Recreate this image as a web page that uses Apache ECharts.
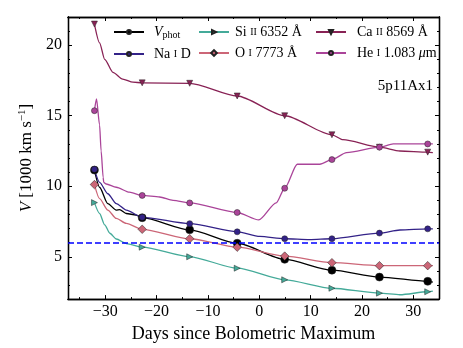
<!DOCTYPE html>
<html>
<head>
<meta charset="utf-8">
<script src="https://cdn.jsdelivr.net/npm/echarts@6/dist/echarts.min.js"></script>
<style>
  html, body { margin: 0; padding: 0; background: #fff; }
  #chart { width: 463px; height: 348px; }
</style>
</head>
<body>
<div id="chart"></div>
<script>
// epochs of the spectra (days since bolometric maximum)
const epochs = [-32.1, -22.8, -13.55, -4.3, 4.95, 14.15, 23.4, 32.8];

// velocities at the epochs [1000 km/s]
const vphotMarks = [11.15, 7.77, 6.91, 5.96, 4.82, 4.05, 3.56, 3.26];
const naMarks = [11.2, 7.8, 7.35, 6.77, 6.28, 6.28, 6.68, 6.98];
const siMarks = [8.84, 5.68, 5.0, 4.19, 3.37, 2.77, 2.42, 2.52];
const oMarks = [10.12, 6.95, 6.28, 5.68, 5.05, 4.58, 4.37, 4.37];
const caMarks = [21.5, 17.33, 17.3, 16.4, 15.0, 13.65, 12.77, 12.42];
const heMarks = [15.36, 9.35, 8.82, 8.14, 9.86, 11.89, 12.77, 13.0];

// extra points along the model curves between epochs
const vphotCurve = [[-31.1, 9.93], [-29.5, 8.77], [-27.85, 8.31], [-27.2, 8.35], [-25.9, 8.07], [-24.0, 7.96], [33.8, 3.2]];
const naCurve = [[-31.1, 10.28], [-29.5, 9.47], [-27.85, 8.77], [-25.9, 8.31], [0.1, 6.44], [9.8, 6.21], [27.4, 6.9], [33.8, 6.98]];
const siCurve = [[-31.1, 8.07], [-30.1, 7.26], [-29.1, 6.67], [-27.85, 6.26], [-25.9, 5.94], [27.4, 2.31], [33.8, 2.57]];
const oCurve = [[-31.1, 9.12], [-29.5, 8.31], [-27.85, 7.72], [-25.9, 7.37], [33.8, 4.37]];
const caCurve = [[-31.1, 20.17], [-30.1, 19.0], [-28.5, 18.08], [-26.6, 17.6], [-24.6, 17.38], [16.3, 13.3], [27.4, 12.5], [33.8, 12.38]];
const heCurve = [[-31.7, 16.2], [-31.1, 14.35], [-30.8, 12.5], [-30.4, 10.63], [-30.3, 10.28], [-29.8, 10.16], [-27.85, 9.93], [-25.3, 9.58],
  [-19.4, 9.24], [-16.8, 9.0], [-0.1, 7.61], [3.3, 8.82], [7.4, 11.56], [11.8, 11.56], [17.0, 12.38], [26.1, 13.0], [33.8, 13.0]];

const vHorizon = 6.0;

// tick positions
const xMajor = [-30, -20, -10, 0, 10, 20, 30];
const xMinor = [-35, -25, -15, -5, 5, 15, 25];
const yMajor = [5, 10, 15, 20];
const yMinor = [3, 4, 6, 7, 8, 9, 11, 12, 13, 14, 16, 17, 18, 19, 21];

const serif = "'Liberation Serif', 'DejaVu Serif', serif";

const legendText = {
  vphot: '{i|V}{sub|phot}',
  na: 'Na {sc|I} D',
  si: 'Si {sc|II} 6352 Å',
  o: 'O {sc|I} 7773 Å',
  ca: 'Ca {sc|II} 8569 Å',
  he: 'He {sc|I} 1.083 {i|μ}m'
};

function mergeData(marks, curve) {
  const pts = [];
  for (let i = 0; i < epochs.length; i++) {
    pts.push({ value: [epochs[i], marks[i]] });
  }
  for (let j = 0; j < curve.length; j++) {
    pts.push({ value: curve[j], symbol: 'none' });
  }
  pts.sort(function (a, b) { return a.value[0] - b.value[0]; });
  return pts;
}

function makeSeries(name, marks, curve, color, symbol, size, rotate) {
  return {
    name: name,
    type: 'line',
    xAxisIndex: 0,
    yAxisIndex: 0,
    data: mergeData(marks, curve),
    smooth: 0.25,
    smoothMonotone: 'x',
    symbol: symbol,
    symbolSize: size,
    symbolRotate: rotate,
    showAllSymbol: true,
    lineStyle: { color: color, width: 1.3 },
    itemStyle: { color: color, borderColor: '#222', borderWidth: 0.5 },
    emphasis: { disabled: true }
  };
}

const seriesList = [
  makeSeries('vphot', vphotMarks, vphotCurve, '#000000', 'circle', 8, 0),
  makeSeries('na', naMarks, naCurve, '#332288', 'circle', 6, 0),
  makeSeries('si', siMarks, siCurve, '#44aa99', 'triangle', 6, -90),
  makeSeries('o', oMarks, oCurve, '#cc6677', 'rect', 6, 45),
  makeSeries('ca', caMarks, caCurve, '#882255', 'triangle', 6, 180),
  makeSeries('he', heMarks, heCurve, '#aa4499', 'circle', 6, 0)
];
seriesList[0].markLine = {
  silent: true,
  symbol: 'none',
  label: { show: false },
  lineStyle: { color: '#0000ff', type: [6, 3], width: 1.5 },
  data: [{ yAxis: vHorizon }]
};

const richText = {
  i: { fontFamily: serif, fontStyle: 'italic', fontSize: 14, color: '#000' },
  sub: { fontFamily: serif, fontSize: 10, color: '#000', padding: [6, 0, 0, 0] },
  sc: { fontFamily: serif, fontSize: 10, color: '#000' }
};

function makeLegend(names, left, pad) {
  return {
    data: names,
    orient: 'vertical',
    left: left,
    top: 20,
    itemWidth: 30,
    itemHeight: 5,
    itemGap: 7,
    selectedMode: false,
    formatter: function (n) { return legendText[n]; },
    textStyle: { fontFamily: serif, fontSize: 14, color: '#000', lineHeight: 14, padding: [0, 0, 0, pad], rich: richText }
  };
}

const tickFmt = function (v) { return v < 0 ? '−' + Math.abs(v) : String(v); };

// one axis = one set of inward ticks on one side of the frame
function xSide(pos, ticks, len, labels) {
  return {
    type: 'value',
    position: pos,
    min: -37.25,
    max: 35,
    axisLine: { show: true, onZero: false, lineStyle: { color: '#000', width: 1.3 } },
    axisTick: { show: true, inside: true, length: len, customValues: ticks, lineStyle: { color: '#000', width: 1 } },
    axisLabel: labels
      ? { show: true, customValues: ticks, fontFamily: serif, fontSize: 16, color: '#000', margin: 5, formatter: tickFmt }
      : { show: false },
    splitLine: { show: false }
  };
}
function ySide(pos, ticks, len, labels) {
  return {
    type: 'value',
    position: pos,
    min: 2,
    max: 22,
    axisLine: { show: true, onZero: false, lineStyle: { color: '#000', width: 1.3 } },
    axisTick: { show: true, inside: true, length: len, customValues: ticks, lineStyle: { color: '#000', width: 1 } },
    axisLabel: labels
      ? { show: true, customValues: ticks, fontFamily: serif, fontSize: 16, color: '#000', margin: 6 }
      : { show: false },
    splitLine: { show: false }
  };
}

const xBottom = xSide('bottom', xMajor, 4, true);
xBottom.name = 'Days since Bolometric Maximum';
xBottom.nameLocation = 'middle';
xBottom.nameGap = 25;
xBottom.nameTextStyle = { fontFamily: serif, fontSize: 18, color: '#000' };

const yLeft = ySide('left', yMajor, 4, true);
yLeft.name = '{i|V} [1000 km s{sup|−1}]';
yLeft.nameLocation = 'middle';
yLeft.nameRotate = 90;
yLeft.nameGap = 29;
yLeft.nameTextStyle = {
  fontFamily: serif, fontSize: 17, color: '#000',
  rich: {
    i: { fontFamily: serif, fontStyle: 'italic', fontSize: 17, color: '#000' },
    sup: { fontFamily: serif, fontSize: 11, color: '#000', padding: [0, 0, 8, 0] }
  }
};

const chart = echarts.init(document.getElementById('chart'), null, { renderer: 'canvas' });
chart.setOption({
  animation: false,
  backgroundColor: '#fff',
  title: {
    text: '5p11Ax1',
    right: 25,
    top: 74,
    textStyle: { fontFamily: serif, fontSize: 15, fontWeight: 'normal', color: '#000' }
  },
  legend: [
    makeLegend(['vphot', 'na'], 108, 5),
    makeLegend(['si', 'o'], 193, 1),
    makeLegend(['ca', 'he'], 310, 6)
  ],
  grid: { left: 68, right: 24, top: 17, bottom: 45 },
  xAxis: [
    xBottom,
    xSide('top', xMajor, 4, false),
    xSide('bottom', xMinor, 2, false),
    xSide('top', xMinor, 2, false)
  ],
  yAxis: [
    yLeft,
    ySide('right', yMajor, 4, false),
    ySide('left', yMinor, 2, false),
    ySide('right', yMinor, 2, false)
  ],
  series: seriesList
});
</script>
</body>
</html>
